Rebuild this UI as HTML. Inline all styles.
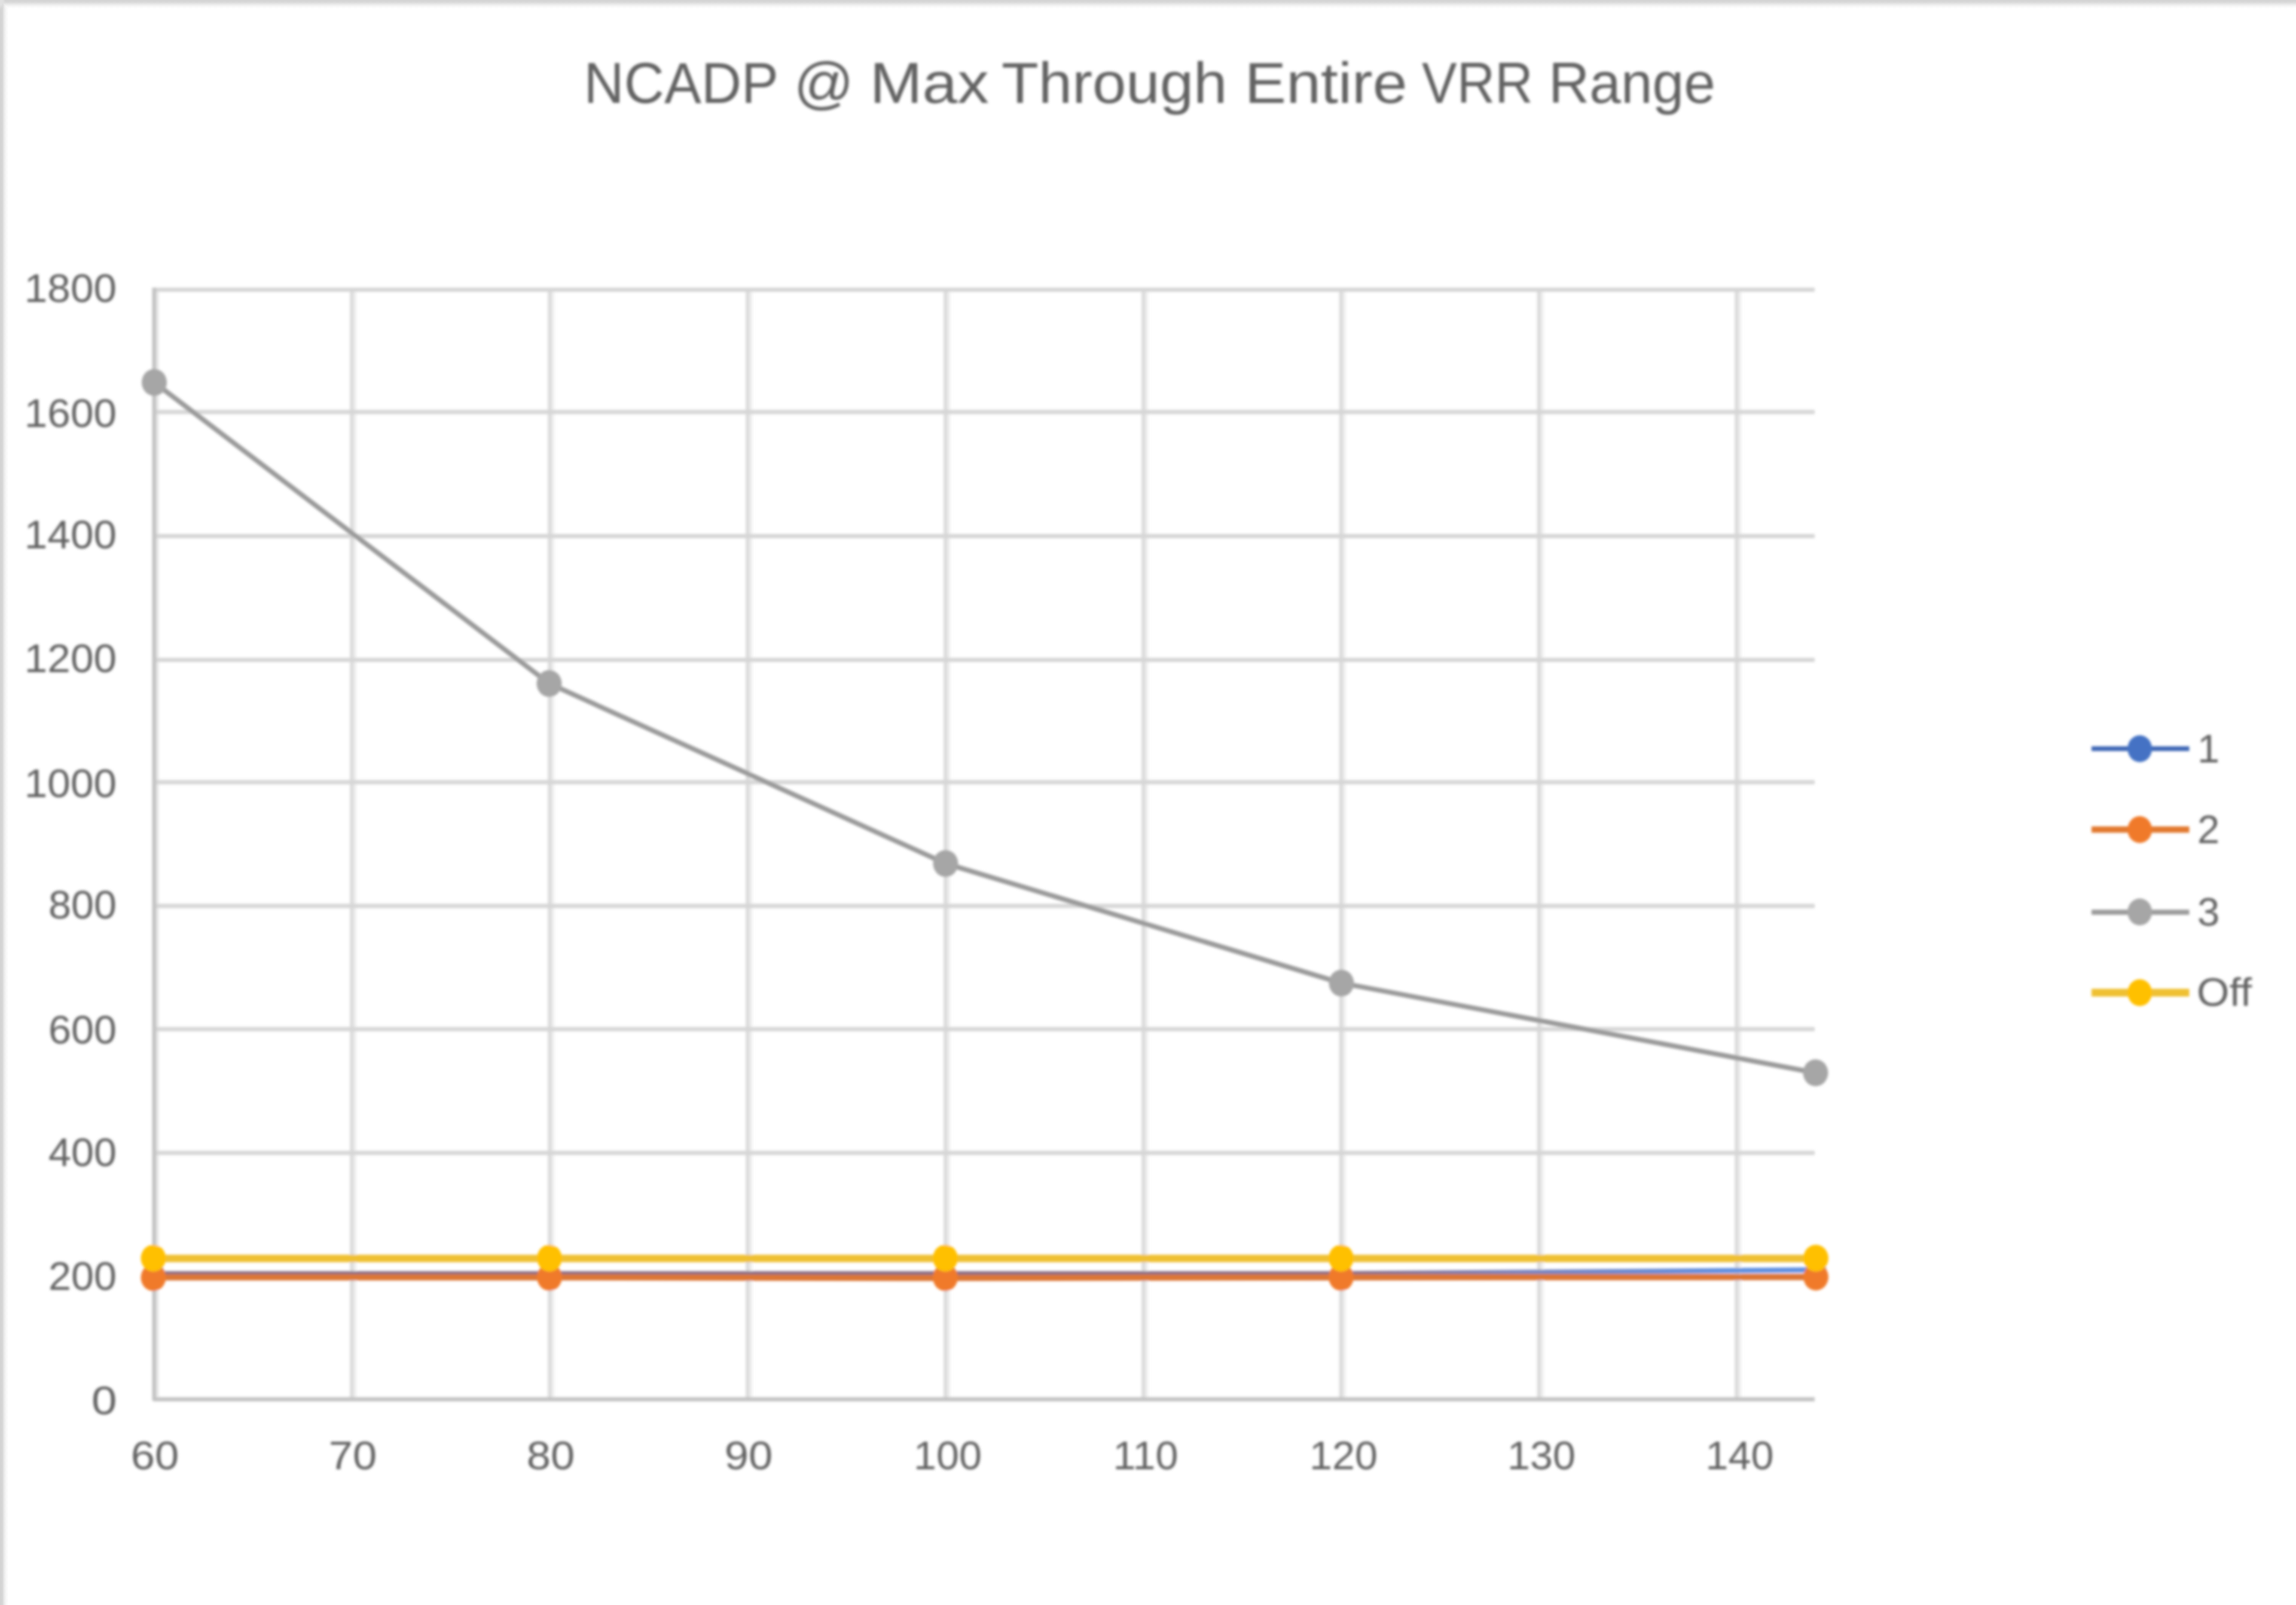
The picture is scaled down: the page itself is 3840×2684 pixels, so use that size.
<!DOCTYPE html>
<html>
<head>
<meta charset="utf-8">
<title>NCADP @ Max Through Entire VRR Range</title>
<style>
  html, body { margin: 0; padding: 0; background: #ffffff; }
  body { width: 3840px; height: 2684px; position: relative; font-family: "Liberation Sans", sans-serif; }
  svg { position: absolute; left: 0; top: 0; display: block; overflow: hidden; }
  text { font-family: "Liberation Sans", sans-serif; fill: #626262; }
  .t { font-size: 96px; fill: #606060; }
  .a { font-size: 67px; }
  .g line { stroke: #d6d6d6; stroke-width: 7; }
  .gv line { stroke: #dbdbdb; stroke-width: 6.5; }
  .gv line.f { stroke: #f1f1f1; stroke-width: 5; }
  .ax line, .ax polyline { stroke: #c3c3c3; stroke-width: 7; }
</style>
</head>
<body>
<svg width="3840" height="2684" viewBox="0 0 3840 2684">
  <defs>
    <linearGradient id="gt" x1="0" y1="0" x2="0" y2="1">
      <stop offset="0" stop-color="#d3d3d3"/>
      <stop offset="0.13" stop-color="#d5d5d5"/>
      <stop offset="0.29" stop-color="#dcdcdc"/>
      <stop offset="0.43" stop-color="#e6e6e6"/>
      <stop offset="0.58" stop-color="#f0f0f0"/>
      <stop offset="0.73" stop-color="#f8f8f8"/>
      <stop offset="0.9" stop-color="#fefefe"/>
      <stop offset="1" stop-color="#ffffff"/>
    </linearGradient>
    <linearGradient id="gl" x1="0" y1="0" x2="1" y2="0">
      <stop offset="0" stop-color="#d3d3d3"/>
      <stop offset="0.2" stop-color="#d5d5d5"/>
      <stop offset="0.3" stop-color="#d9d9d9"/>
      <stop offset="0.43" stop-color="#e7e7e7"/>
      <stop offset="0.58" stop-color="#f2f2f2"/>
      <stop offset="0.73" stop-color="#f9f9f9"/>
      <stop offset="0.95" stop-color="#ffffff"/>
      <stop offset="1" stop-color="#ffffff"/>
    </linearGradient>
    <radialGradient id="gc" cx="0.5" cy="0.5" r="0.5">
      <stop offset="0" stop-color="#e2e2e2" stop-opacity="1"/>
      <stop offset="0.55" stop-color="#e2e2e2" stop-opacity="0.9"/>
      <stop offset="1" stop-color="#e2e2e2" stop-opacity="0"/>
    </radialGradient>
    <filter id="bf" x="-1%" y="-1%" width="102%" height="102%">
      <feGaussianBlur stdDeviation="2.8"/>
    </filter>
    <filter id="bl" x="-2%" y="-2%" width="104%" height="104%">
      <feGaussianBlur stdDeviation="2.3"/>
    </filter>
    <linearGradient id="gb" gradientUnits="userSpaceOnUse" x1="2243" y1="0" x2="2900" y2="0">
      <stop offset="0" stop-color="#8a6f86"/>
      <stop offset="0.45" stop-color="#7d86bf"/>
      <stop offset="1" stop-color="#5f90e2"/>
    </linearGradient>
  </defs>

  <rect x="0" y="0" width="3840" height="2684" fill="#ffffff"/>
  <!-- chart frame (top + left edge only visible) -->
  <rect x="0" y="0" width="3840" height="15" fill="url(#gt)"/>
  <rect x="0" y="0" width="15" height="2684" fill="url(#gl)" style="mix-blend-mode:darken"/>
  <ellipse cx="0" cy="0" rx="8.5" ry="16" fill="url(#gc)"/>

  <g filter="url(#bl)">
    <!-- soft right-hand fringe of vertical lines -->
    <g class="gv">
      <line class="f" x1="594" y1="485" x2="594" y2="2340"/>
      <line class="f" x1="925" y1="485" x2="925" y2="2340"/>
      <line class="f" x1="1256" y1="485" x2="1256" y2="2340"/>
      <line class="f" x1="1587" y1="485" x2="1587" y2="2340"/>
      <line class="f" x1="1918" y1="485" x2="1918" y2="2340"/>
      <line class="f" x1="2248.5" y1="485" x2="2248.5" y2="2340"/>
      <line class="f" x1="2579.5" y1="485" x2="2579.5" y2="2340"/>
      <line class="f" x1="2910" y1="485" x2="2910" y2="2340"/>
      <line class="f" x1="263.5" y1="484" x2="263.5" y2="2336" style="stroke:#ececec"/>
    </g>
    <!-- vertical gridlines -->
    <g class="gv">
      <line x1="588.5" y1="485" x2="588.5" y2="2340"/>
      <line x1="919.5" y1="485" x2="919.5" y2="2340"/>
      <line x1="1250.5" y1="485" x2="1250.5" y2="2340"/>
      <line x1="1581.5" y1="485" x2="1581.5" y2="2340"/>
      <line x1="1912.5" y1="485" x2="1912.5" y2="2340"/>
      <line x1="2243.0" y1="485" x2="2243.0" y2="2340"/>
      <line x1="2574.0" y1="485" x2="2574.0" y2="2340"/>
      <line x1="2904.5" y1="485" x2="2904.5" y2="2340"/>
    </g>
    <!-- horizontal gridlines -->
    <g class="g">
      <line x1="258" y1="484.5" x2="3035" y2="484.5"/>
      <line x1="258" y1="689" x2="3035" y2="689"/>
      <line x1="258" y1="896.5" x2="3035" y2="896.5"/>
      <line x1="258" y1="1103.5" x2="3035" y2="1103.5"/>
      <line x1="258" y1="1308" x2="3035" y2="1308"/>
      <line x1="258" y1="1515" x2="3035" y2="1515"/>
      <line x1="258" y1="1721" x2="3035" y2="1721"/>
      <line x1="258" y1="1928" x2="3035" y2="1928"/>
      <line x1="258" y1="2133.5" x2="3035" y2="2133.5"/>
    </g>
    <!-- axes -->
    <g class="ax">
      <polyline points="258,481 258,2340 3035,2340" fill="none" stroke-linejoin="round"/>
    </g>

    <!-- series 1 (blue) -->
    <g stroke="#4d7cd0" fill="#4472c4" stroke-width="8.5" stroke-linejoin="round" stroke-linecap="round">
      <polyline fill="none" stroke="#8a6f86" points="258,2130 920,2130 1582,2130 2243.5,2130"/>
      <polyline fill="none" stroke="url(#gb)" points="2243.5,2130 3037,2123.5"/>
      <g stroke="none"><ellipse cx="258" cy="2130" rx="17" ry="18"/><ellipse cx="920" cy="2130" rx="17" ry="18"/><ellipse cx="1582" cy="2130" rx="17" ry="18"/><ellipse cx="2243.5" cy="2130" rx="17" ry="18"/><ellipse cx="3037" cy="2123.5" rx="17" ry="18"/></g>
    </g>
    <!-- series 2 (orange) -->
    <g stroke="#dc7636" fill="#f07a2c" stroke-width="10.5" stroke-linejoin="round" stroke-linecap="round">
      <polyline fill="none" points="258,2136 920,2136 1582,2137 2243.5,2136 3037,2135.5"/>
      <g stroke="none"><ellipse cx="256.5" cy="2136.5" rx="21" ry="22.5"/><ellipse cx="919" cy="2136" rx="21" ry="22.5"/><ellipse cx="1581" cy="2136.5" rx="21" ry="22.5"/><ellipse cx="2243" cy="2136" rx="21" ry="22.5"/><ellipse cx="3037" cy="2135.5" rx="21" ry="22.5"/></g>
    </g>
    <!-- series 3 (grey) -->
    <g stroke="#9a9a9a" fill="#a6a6a6" stroke-width="8.2" stroke-linejoin="round" stroke-linecap="round">
      <polyline fill="none" points="258,639.5 918.5,1143 1581.5,1444 2243.5,1644 3036.5,1794"/>
      <g stroke="none"><ellipse cx="258" cy="639.5" rx="21" ry="22.5"/><ellipse cx="918.5" cy="1143" rx="21" ry="22.5"/><ellipse cx="1581.5" cy="1444" rx="21" ry="22.5"/><ellipse cx="2243.5" cy="1644" rx="21" ry="22.5"/><ellipse cx="3036.5" cy="1794" rx="21" ry="22.5"/></g>
    </g>
    <!-- series Off (yellow) -->
    <g stroke="#efc032" fill="#ffc000" stroke-width="12.5" stroke-linejoin="round" stroke-linecap="round">
      <polyline fill="none" points="258,2104.5 920,2104.5 1582,2104.5 2243.5,2104.5 3037,2104.5"/>
      <g stroke="none"><ellipse cx="256.5" cy="2104" rx="21" ry="22.5"/><ellipse cx="919" cy="2104" rx="21" ry="22.5"/><ellipse cx="1581" cy="2104" rx="21" ry="22.5"/><ellipse cx="2243" cy="2104" rx="21" ry="22.5"/><ellipse cx="3037" cy="2104" rx="21" ry="22.5"/></g>
    </g>
    <!-- legend -->
    <g stroke-linecap="butt">
      <line x1="3498" y1="1252" x2="3661.5" y2="1252" stroke="#3f68b6" stroke-width="8"/><ellipse cx="3578.7" cy="1252" rx="20.5" ry="22.5" fill="#4472c4"/>
      <line x1="3498" y1="1387.3" x2="3661.5" y2="1387.3" stroke="#e2782f" stroke-width="10.5"/><ellipse cx="3578.7" cy="1387.3" rx="20.5" ry="22.5" fill="#f07a2c"/>
      <line x1="3498" y1="1525.6" x2="3661.5" y2="1525.6" stroke="#9b9b9b" stroke-width="8.5"/><ellipse cx="3578.7" cy="1525" rx="20.5" ry="22.5" fill="#a6a6a6"/>
      <line x1="3498" y1="1660" x2="3661.5" y2="1660" stroke="#efc032" stroke-width="13"/><ellipse cx="3578.7" cy="1660" rx="20.5" ry="22.5" fill="#ffc000"/>
    </g>

    <!-- title -->
    <g class="t">
      <text transform="translate(976.6,172) scale(0.9685,1)">NCADP</text>
      <text transform="translate(1327.7,172) scale(1.0275,1)">@</text>
      <text transform="translate(1454.7,172) scale(1.0989,1)">Max</text>
      <text transform="translate(1674.9,172) scale(1.0562,1)">Through</text>
      <text transform="translate(2081.8,172) scale(1.0837,1)">Entire</text>
      <text transform="translate(2378.1,172) scale(0.9161,1)">VRR</text>
      <text transform="translate(2589.9,172) scale(0.9866,1)">Range</text>
    </g>

    <!-- y axis labels -->
    <g class="a" text-anchor="end">
      <text transform="translate(195,505) scale(1.035,1)">1800</text>
      <text transform="translate(195,714) scale(1.035,1)">1600</text>
      <text transform="translate(195,917) scale(1.035,1)">1400</text>
      <text transform="translate(195,1124) scale(1.035,1)">1200</text>
      <text transform="translate(195,1333) scale(1.035,1)">1000</text>
      <text transform="translate(195,1536) scale(1.02,1)">800</text>
      <text transform="translate(195,1745) scale(1.02,1)">600</text>
      <text transform="translate(195,1950) scale(1.02,1)">400</text>
      <text transform="translate(195,2157) scale(1.02,1)">200</text>
      <text transform="translate(195.5,2365) scale(1.14,1)">0</text>
    </g>
    <!-- x axis labels -->
    <g class="a" text-anchor="middle">
      <text transform="translate(259,2457) scale(1.08,1)">60</text>
      <text transform="translate(590,2457) scale(1.08,1)">70</text>
      <text transform="translate(921,2457) scale(1.08,1)">80</text>
      <text transform="translate(1252,2457) scale(1.08,1)">90</text>
      <text transform="translate(1585,2457) scale(1.02,1)">100</text>
      <text transform="translate(1916,2457) scale(1.02,1)">110</text>
      <text transform="translate(2247,2457) scale(1.02,1)">120</text>
      <text transform="translate(2578,2457) scale(1.02,1)">130</text>
      <text transform="translate(2909.5,2457) scale(1.02,1)">140</text>
    </g>
    <!-- legend labels -->
    <g class="a">
      <text x="3675" y="1275">1</text>
      <text x="3675" y="1410">2</text>
      <text x="3675" y="1548">3</text>
      <text transform="translate(3674,1682) scale(1.045,1)">Off</text>
    </g>
  </g>
</svg>
</body>
</html>
